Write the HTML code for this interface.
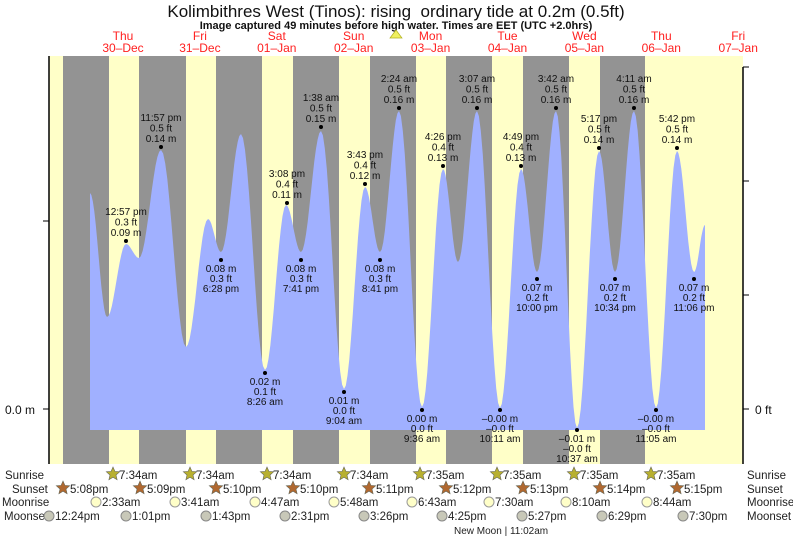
<!DOCTYPE html>
<html><head><meta charset="utf-8"><style>
body{margin:0;background:#fff;width:793px;height:537px;overflow:hidden;font-family:"Liberation Sans",sans-serif}
svg text{font-family:"Liberation Sans",sans-serif}
</style></head><body>
<svg id="s" width="793" height="537" xmlns="http://www.w3.org/2000/svg">
<rect x="0" y="0" width="793" height="537" fill="#fff"/>
<text x="396" y="17" font-size="17" text-anchor="middle" fill="#111">Kolimbithres West (Tinos): rising&#160; ordinary tide at 0.2m (0.5ft)</text>
<text x="396" y="29" font-size="11" font-weight="bold" text-anchor="middle" fill="#111">Image captured 49 minutes before high water. Times are EET (UTC +2.0hrs)</text>
<polygon points="390,38 396,30 402,38" fill="#f0f060" stroke="#b0b020" stroke-width="0.7"/>
<g id="bands"></g>
<path id="tide" fill="#a0b0ff" d=""/>
<g id="days" font-size="12" fill="#ff2020" text-anchor="middle"></g>
<line x1="49" y1="56" x2="49" y2="464" stroke="#000" stroke-width="1.5"/>
<line x1="743" y1="67" x2="743" y2="464" stroke="#000" stroke-width="1.5"/>
<line x1="43" y1="409" x2="49" y2="409" stroke="#000"/>
<line x1="43" y1="221" x2="49" y2="221" stroke="#000"/>
<g stroke="#000"><line x1="743" y1="67" x2="749" y2="67"/><line x1="743" y1="181" x2="749" y2="181"/><line x1="743" y1="295" x2="749" y2="295"/><line x1="743" y1="409" x2="749" y2="409"/></g>
<text x="5" y="414" font-size="12" fill="#111">0.0 m</text>
<text x="755" y="414" font-size="12" fill="#111">0 ft</text>
<g id="lbl" font-size="10" fill="#111" text-anchor="middle"></g>
<g id="bot" font-size="11.5" fill="#222"></g>
</svg>
<script>
var NS="http://www.w3.org/2000/svg";
function el(p,t,a,txt){var e=document.createElementNS(NS,t);for(var k in a)e.setAttribute(k,a[k]);if(txt!==undefined)e.textContent=txt;document.getElementById(p).appendChild(e);return e;}
var b=[[49,63,'y'],[63,109,'g'],[109,139,'y'],[139,186,'g'],[186,216,'y'],[216,262,'g'],[262,293,'y'],[293,339,'g'],[339,370,'y'],[370,416,'g'],[416,446,'y'],[446,492,'g'],[492,523,'y'],[523,569,'g'],[569,600,'y'],[600,645,'g'],[645,743,'y']];
b.forEach(function(r){el('bands','rect',{x:r[0],y:56,width:r[1]-r[0],height:408,fill:r[2]=='y'?'#ffffc8':'#939393'});});
var dn=[['Thu','30-Dec'],['Fri','31-Dec'],['Sat','01-Jan'],['Sun','02-Jan'],['Mon','03-Jan'],['Tue','04-Jan'],['Wed','05-Jan'],['Thu','06-Jan'],['Fri','07-Jan']];
dn.forEach(function(d,i){var x=123+i*76.9;el('days','text',{x:x,y:40},d[0]);el('days','text',{x:x,y:52},d[1].replace('-','\u2013'));});
var p=[[90,193],[107,317],[126,244],[139,258],[161,150],[186,347],[208,219],[221,252],[241,134],[265,370],[286,205],[301,252],[321,131],[344,389],[365,187],[380,252],[399,111],[422,407],[443,169],[458,262],[477,111],[500,408],[521,169],[537,272],[556,111],[577,428],[599,151],[615,272],[634,111],[656,408],[677,151],[694,272],[705,225]];
var d='M90,430 L90,193';
for(var i=0;i<p.length-1;i++){var a=p[i],c=p[i+1];for(var k=1;k<=12;k++){var t=k/12;var x=a[0]+(c[0]-a[0])*t;var y=a[1]+(c[1]-a[1])*(1-Math.cos(Math.PI*t))/2;d+=' L'+x.toFixed(1)+','+y.toFixed(1);}}
d+=' L705,430 Z';document.getElementById('tide').setAttribute('d',d);
var L=[[126,241,'h',['12:57 pm','0.3 ft','0.09 m']],[161,147,'h',['11:57 pm','0.5 ft','0.14 m']],[221,260,'l',['0.08 m','0.3 ft','6:28 pm']],
[287,203,'h',['3:08 pm','0.4 ft','0.11 m']],[301,260,'l',['0.08 m','0.3 ft','7:41 pm']],[265,373,'l',['0.02 m','0.1 ft','8:26 am']],
[321,127,'h',['1:38 am','0.5 ft','0.15 m']],[344,392,'l',['0.01 m','0.0 ft','9:04 am']],[365,184,'h',['3:43 pm','0.4 ft','0.12 m']],
[380,260,'l',['0.08 m','0.3 ft','8:41 pm']],[399,108,'h',['2:24 am','0.5 ft','0.16 m']],[422,410,'l',['0.00 m','0.0 ft','9:36 am']],
[443,166,'h',['4:26 pm','0.4 ft','0.13 m']],[477,108,'h',['3:07 am','0.5 ft','0.16 m']],[500,410,'l',['\u20130.00 m','\u20130.0 ft','10:11 am']],
[521,166,'h',['4:49 pm','0.4 ft','0.13 m']],[537,279,'l',['0.07 m','0.2 ft','10:00 pm']],[556,108,'h',['3:42 am','0.5 ft','0.16 m']],
[577,430,'l',['\u20130.01 m','\u20130.0 ft','10:37 am']],[599,148,'h',['5:17 pm','0.5 ft','0.14 m']],[615,279,'l',['0.07 m','0.2 ft','10:34 pm']],
[634,108,'h',['4:11 am','0.5 ft','0.16 m']],[656,410,'l',['\u20130.00 m','\u20130.0 ft','11:05 am']],[677,148,'h',['5:42 pm','0.5 ft','0.14 m']],[694,279,'l',['0.07 m','0.2 ft','11:06 pm']]];
L.forEach(function(l){el('lbl','circle',{cx:l[0],cy:l[1],r:2,fill:'#000'});
for(var j=0;j<3;j++){var y=l[2]=='h'?l[1]-26+j*10.5:l[1]+12+j*10;el('lbl','text',{x:l[0],y:y},l[3][j]);}});
function star(x,y,col){var pts=[];for(var i=0;i<10;i++){var r=i%2?3.2:7;var a=-Math.PI/2+i*Math.PI/5;pts.push((x+r*Math.cos(a)).toFixed(1)+','+(y+r*Math.sin(a)).toFixed(1));}el('bot','polygon',{points:pts.join(' '),fill:col,stroke:'#665',"stroke-width":0.6});}
el('bot','text',{x:5,y:479},'Sunrise');el('bot','text',{x:12,y:493},'Sunset');el('bot','text',{x:2,y:506},'Moonrise');el('bot','text',{x:4,y:520},'Moonset');
el('bot','text',{x:747,y:479},'Sunrise');el('bot','text',{x:747,y:493},'Sunset');el('bot','text',{x:747,y:506},'Moonrise');el('bot','text',{x:747,y:520},'Moonset');
var sr=[113,190,267,344,420,497,574,651],srt=['7:34am','7:34am','7:34am','7:34am','7:35am','7:35am','7:35am','7:35am'];
sr.forEach(function(x,i){star(x,474,'#b8b030');el('bot','text',{x:x+6,y:479},srt[i]);});
var ss=[63,140,216,293,369,446,523,600,677],sst=['5:08pm','5:09pm','5:10pm','5:10pm','5:11pm','5:12pm','5:13pm','5:14pm','5:15pm'];
ss.forEach(function(x,i){star(x,488,'#b06830');el('bot','text',{x:x+7,y:493},sst[i]);});
var mr=[96,175,255,334,412,489,566,647],mrt=['2:33am','3:41am','4:47am','5:48am','6:43am','7:30am','8:10am','8:44am'];
mr.forEach(function(x,i){el('bot','circle',{cx:x,cy:502,r:5,fill:'#ffffc8',stroke:'#999'});el('bot','text',{x:x+6,y:506},mrt[i]);});
var ms=[49,126,206,285,364,442,522,602,683],mst=['12:24pm','1:01pm','1:43pm','2:31pm','3:26pm','4:25pm','5:27pm','6:29pm','7:30pm'];
ms.forEach(function(x,i){el('bot','circle',{cx:x,cy:516,r:5,fill:'#c8c8b8',stroke:'#888'});el('bot','text',{x:x+6,y:520},mst[i]);});
el('bot','text',{x:454,y:534,'font-size':10},'New Moon | 11:02am');
</script>
</body></html>
